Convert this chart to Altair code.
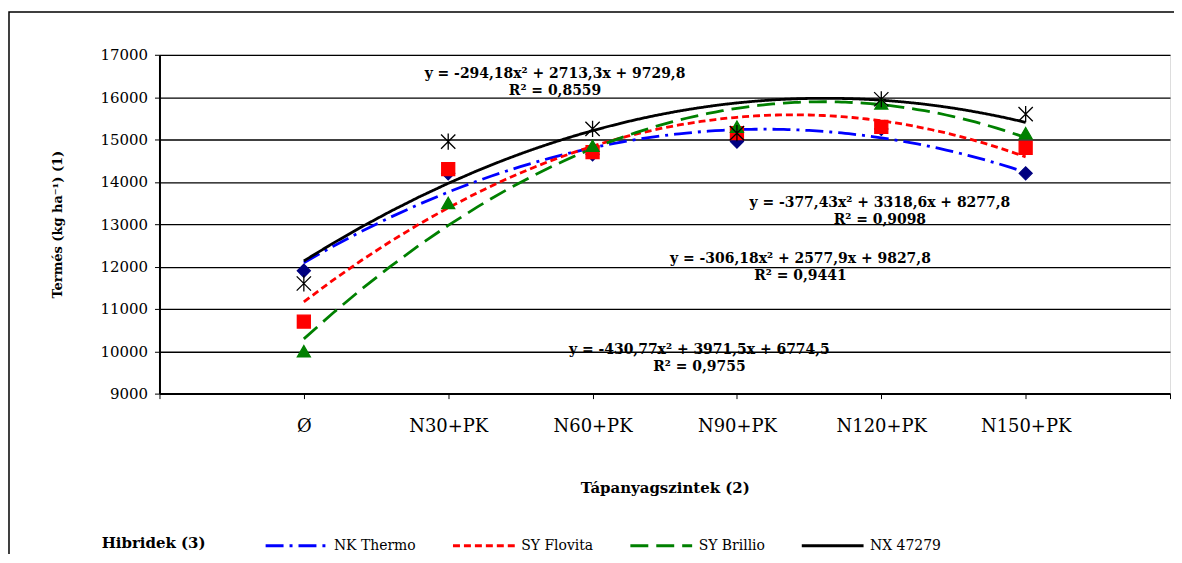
import json
import altair as alt
import pandas as pd

# ---- data ----
categories = ["Ø", "N30+PK", "N60+PK", "N90+PK", "N120+PK", "N150+PK"]
x_pos = [1, 2, 3, 4, 5, 6]
series_names = ["NK Thermo", "SY Flovita", "SY Brillio", "NX 47279"]

nk_thermo = [11900, 14200, 14650, 14950, 15250, 14200]
sy_flovita = [10700, 14300, 14700, 15150, 15300, 14800]
sy_brillio = [10000, 13500, 14850, 15300, 15850, 15150]
nx_47279 = [11600, 14950, 15250, 15150, 15950, 15600]

eq_texts = [
    "y = -306,18x² + 2577,9x + 9827,8\nR² = 0,9441",
    "y = -377,43x² + 3318,6x + 8277,8\nR² = 0,9098",
    "y = -430,77x² + 3971,5x + 6774,5\nR² = 0,9755",
    "y = -294,18x² + 2713,3x + 9729,8\nR² = 0,8559",
]
eq_x = [4.44, 4.99, 3.74, 2.74]
eq_y = [12176, 13494, 10035, 16541]

legend_title = "Hibridek (3)"

series_values = [nk_thermo, sy_flovita, sy_brillio, nx_47279]
rows = []
for name, vals in zip(series_names, series_values):
    for xv, yv in zip(x_pos, vals):
        rows.append({"series": name, "x": xv, "y": yv})
df = pd.DataFrame(rows)
eq_df = pd.DataFrame({"x": eq_x, "y": eq_y, "text": eq_texts})

FONT = "DejaVu Serif"
line_colors = ["#0000FF", "#FF0000", "#008000", "#000000"]
marker_colors = ["#000080", "#FF0000", "#008000", "#000000"]
dashes = [[18, 6, 3, 6], [7, 4], [18, 8], [1, 0]]
asterisk = "M-1.1,-1.1L1.1,1.1M-1.1,1.1L1.1,-1.1M0,-1.25L0,1.25"
marker_shapes = ["diamond", "square", "triangle-up", asterisk]

label_arr = json.dumps([""] + categories + [""], ensure_ascii=False)
names_js = json.dumps(series_names)
idx_expr = f"indexof({names_js}, datum.series)"

x_enc = alt.X(
    "x:Q",
    scale=alt.Scale(domain=[0, 7], nice=False, zero=False),
    axis=alt.Axis(
        values=[0, 1, 2, 3, 4, 5, 6, 7],
        labelExpr=f"{label_arr}[datum.value]",
        grid=False,
        tickSize=5,
        tickColor="black",
        domainColor="black",
        domainWidth=2,
        labelFont=FONT,
        labelFontSize=18,
        labelColor="black",
        labelPadding=19,
        title="Tápanyagszintek (2)",
        titleFont=FONT,
        titleFontSize=15,
        titleFontWeight="bold",
        titleColor="black",
        titleY=94,
        titleBaseline="middle",
    ),
)
y_enc = alt.Y(
    "y:Q",
    scale=alt.Scale(domain=[9000, 17000], nice=False, zero=False),
    axis=alt.Axis(
        values=list(range(9000, 17001, 1000)),
        format="d",
        grid=True,
        gridColor="black",
        gridWidth=1.3,
        tickSize=5,
        tickColor="black",
        domainColor="black",
        domainWidth=2,
        labelFont=FONT,
        labelFontSize=15,
        labelColor="black",
        labelPadding=7,
        title="Termés (kg ha⁻¹) (1)",
        titleFont=FONT,
        titleFontSize=13,
        titleFontWeight="bold",
        titleColor="black",
        titleX=-102,
        titleY=170,
        titleAngle=-90,
        titleAlign="center",
        titleBaseline="middle",
    ),
)

legend = alt.Legend(
    title=None,
    orient="none",
    legendX=105,
    legendY=460,
    direction="horizontal",
    columns=4,
    labelFont=FONT,
    labelFontSize=14,
    labelColor="black",
    labelOffset=5,
    symbolType="stroke",
    symbolSize=3844,
    symbolStrokeWidth=3,
    columnPadding=30,
    gridAlign="each",
    padding=0,
)

base = alt.Chart(df)

lines = base.transform_regression(
    "x", "y", groupby=["series"], method="poly", order=2, extent=[1, 6]
).mark_line(strokeWidth=2.8).encode(
    x=x_enc,
    y=y_enc,
    color=alt.Color("series:N", scale=alt.Scale(domain=series_names, range=line_colors), legend=legend),
    strokeDash=alt.StrokeDash("series:N", scale=alt.Scale(domain=series_names, range=dashes), legend=legend),
)

points = base.transform_calculate(
    shp=f"{json.dumps(marker_shapes)}[{idx_expr}]",
    col=f"{json.dumps(marker_colors)}[{idx_expr}]",
).mark_point(filled=True, size=170, strokeWidth=1.3, opacity=1).encode(
    x=x_enc,
    y=y_enc,
    shape=alt.Shape("shp:N", scale=None),
    fill=alt.Fill("col:N", scale=None),
    stroke=alt.Stroke("col:N", scale=None),
)

equations = alt.Chart(eq_df).mark_text(
    font=FONT, fontSize=14, fontWeight="bold", color="black",
    lineBreak="\n", lineHeight=17, align="center", baseline="middle",
).encode(x=alt.X("x:Q"), y=alt.Y("y:Q"), text="text:N")

legend_head = alt.Chart(alt.Data(values=[{"t": legend_title}])).mark_text(
    font=FONT, fontSize=15, fontWeight="bold", color="black", align="left", baseline="middle"
).encode(x=alt.value(-58), y=alt.value(490), text="t:N")

frame = alt.Chart(alt.Data(values=[{}])).mark_rect(
    filled=False, stroke="black", strokeWidth=1.5
).encode(x=alt.value(-151), x2=alt.value(1040), y=alt.value(-43), y2=alt.value(530))

chart = alt.layer(frame, lines, points, equations, legend_head).properties(
    width=1014,
    height=340,
    autosize=alt.AutoSizeParams(type="none"),
    padding={"left": 152, "top": 46, "right": 4, "bottom": 160},
).configure_view(stroke="black", strokeWidth=2).configure(background="white")

chart.save("out.html", embed_options={"renderer": "svg", "actions": False})
